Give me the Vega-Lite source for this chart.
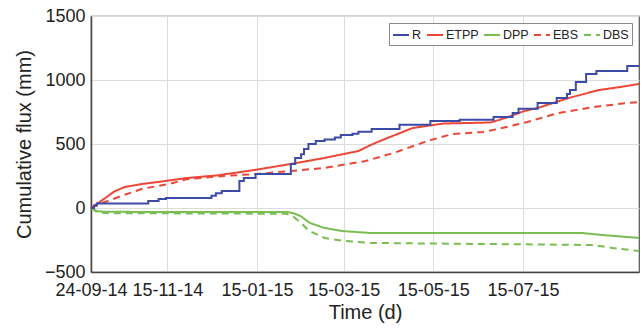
{
  "$schema": "https://vega.github.io/schema/vega-lite/v6.json",
  "width": 548,
  "height": 256,
  "autosize": "none",
  "padding": {"left": 91, "top": 16, "right": 4, "bottom": 60},
  "background": "white",
  "config": {
    "view": {"stroke": "#555", "strokeWidth": 1.2},
    "axis": {
      "labelFont": "Liberation Sans",
      "labelFontSize": 18,
      "labelColor": "#222",
      "titleFont": "Liberation Sans",
      "titleFontSize": 20,
      "titleFontWeight": "normal",
      "titleColor": "#222",
      "gridColor": "#dcdcdc",
      "gridWidth": 1,
      "domainColor": "#444",
      "domainWidth": 1.5,
      "tickSize": 0,
      "labelOverlap": false,
      "labelBound": false,
      "labelFlush": false
    },
    "legend": {
      "orient": "top-right",
      "direction": "horizontal",
      "columns": 5,
      "gridAlign": "none",
      "offset": 7,
      "padding": 3,
      "strokeColor": "#888",
      "fillColor": "#ffffff",
      "labelFont": "Liberation Sans",
      "labelFontSize": 12.5,
      "labelColor": "#222",
      "symbolType": "stroke",
      "symbolSize": 256,
      "symbolStrokeWidth": 2,
      "labelOffset": 2,
      "columnPadding": 1
    }
  },
  "data": {
    "format": {"parse": {"date": "utc:'%Y-%m-%d'"}},
    "values": [
      {"series": "R", "date": "2014-09-24", "value": 0},
      {"series": "R", "date": "2014-09-26", "value": 20},
      {"series": "R", "date": "2014-09-28", "value": 35},
      {"series": "R", "date": "2014-11-02", "value": 55},
      {"series": "R", "date": "2014-11-09", "value": 70},
      {"series": "R", "date": "2014-11-14", "value": 78},
      {"series": "R", "date": "2014-12-15", "value": 95},
      {"series": "R", "date": "2014-12-18", "value": 115},
      {"series": "R", "date": "2014-12-22", "value": 133},
      {"series": "R", "date": "2015-01-03", "value": 211},
      {"series": "R", "date": "2015-01-06", "value": 234},
      {"series": "R", "date": "2015-01-14", "value": 266},
      {"series": "R", "date": "2015-02-07", "value": 344},
      {"series": "R", "date": "2015-02-10", "value": 391},
      {"series": "R", "date": "2015-02-14", "value": 420},
      {"series": "R", "date": "2015-02-16", "value": 460},
      {"series": "R", "date": "2015-02-19", "value": 500},
      {"series": "R", "date": "2015-02-24", "value": 523},
      {"series": "R", "date": "2015-03-02", "value": 535},
      {"series": "R", "date": "2015-03-09", "value": 550},
      {"series": "R", "date": "2015-03-13", "value": 570},
      {"series": "R", "date": "2015-03-21", "value": 580},
      {"series": "R", "date": "2015-03-25", "value": 596},
      {"series": "R", "date": "2015-04-03", "value": 617},
      {"series": "R", "date": "2015-04-22", "value": 650},
      {"series": "R", "date": "2015-05-13", "value": 680},
      {"series": "R", "date": "2015-06-02", "value": 690},
      {"series": "R", "date": "2015-06-25", "value": 711},
      {"series": "R", "date": "2015-07-08", "value": 742},
      {"series": "R", "date": "2015-07-12", "value": 775},
      {"series": "R", "date": "2015-07-25", "value": 820},
      {"series": "R", "date": "2015-08-07", "value": 860},
      {"series": "R", "date": "2015-08-14", "value": 890},
      {"series": "R", "date": "2015-08-16", "value": 922},
      {"series": "R", "date": "2015-08-20", "value": 984},
      {"series": "R", "date": "2015-08-27", "value": 1047},
      {"series": "R", "date": "2015-09-03", "value": 1070},
      {"series": "R", "date": "2015-09-24", "value": 1109},
      {"series": "R", "date": "2015-10-02", "value": 1109},

      {"series": "ETPP", "date": "2014-09-24", "value": 0},
      {"series": "ETPP", "date": "2014-10-04", "value": 80},
      {"series": "ETPP", "date": "2014-10-10", "value": 130},
      {"series": "ETPP", "date": "2014-10-17", "value": 164},
      {"series": "ETPP", "date": "2014-10-29", "value": 188},
      {"series": "ETPP", "date": "2014-11-13", "value": 210},
      {"series": "ETPP", "date": "2014-11-28", "value": 234},
      {"series": "ETPP", "date": "2014-12-19", "value": 255},
      {"series": "ETPP", "date": "2015-01-03", "value": 280},
      {"series": "ETPP", "date": "2015-01-15", "value": 300},
      {"series": "ETPP", "date": "2015-02-07", "value": 344},
      {"series": "ETPP", "date": "2015-03-02", "value": 391},
      {"series": "ETPP", "date": "2015-03-25", "value": 445},
      {"series": "ETPP", "date": "2015-04-02", "value": 490},
      {"series": "ETPP", "date": "2015-04-09", "value": 525},
      {"series": "ETPP", "date": "2015-05-01", "value": 625},
      {"series": "ETPP", "date": "2015-05-22", "value": 660},
      {"series": "ETPP", "date": "2015-06-23", "value": 668},
      {"series": "ETPP", "date": "2015-07-03", "value": 703},
      {"series": "ETPP", "date": "2015-07-16", "value": 758},
      {"series": "ETPP", "date": "2015-07-25", "value": 781},
      {"series": "ETPP", "date": "2015-08-15", "value": 859},
      {"series": "ETPP", "date": "2015-09-05", "value": 922},
      {"series": "ETPP", "date": "2015-09-19", "value": 945},
      {"series": "ETPP", "date": "2015-10-02", "value": 969},

      {"series": "DPP", "date": "2014-09-24", "value": 0},
      {"series": "DPP", "date": "2014-09-28", "value": -25},
      {"series": "DPP", "date": "2014-10-04", "value": -30},
      {"series": "DPP", "date": "2015-02-05", "value": -32},
      {"series": "DPP", "date": "2015-02-10", "value": -45},
      {"series": "DPP", "date": "2015-02-14", "value": -65},
      {"series": "DPP", "date": "2015-02-20", "value": -117},
      {"series": "DPP", "date": "2015-03-02", "value": -156},
      {"series": "DPP", "date": "2015-03-14", "value": -180},
      {"series": "DPP", "date": "2015-04-02", "value": -195},
      {"series": "DPP", "date": "2015-08-24", "value": -195},
      {"series": "DPP", "date": "2015-09-07", "value": -211},
      {"series": "DPP", "date": "2015-10-02", "value": -234},

      {"series": "EBS", "date": "2014-09-24", "value": 0},
      {"series": "EBS", "date": "2014-09-30", "value": 31},
      {"series": "EBS", "date": "2014-10-16", "value": 100},
      {"series": "EBS", "date": "2014-10-29", "value": 150},
      {"series": "EBS", "date": "2014-11-17", "value": 190},
      {"series": "EBS", "date": "2014-11-28", "value": 225},
      {"series": "EBS", "date": "2014-12-23", "value": 250},
      {"series": "EBS", "date": "2015-01-15", "value": 266},
      {"series": "EBS", "date": "2015-02-07", "value": 289},
      {"series": "EBS", "date": "2015-03-02", "value": 313},
      {"series": "EBS", "date": "2015-03-30", "value": 367},
      {"series": "EBS", "date": "2015-04-18", "value": 430},
      {"series": "EBS", "date": "2015-05-11", "value": 523},
      {"series": "EBS", "date": "2015-05-28", "value": 578},
      {"series": "EBS", "date": "2015-06-18", "value": 594},
      {"series": "EBS", "date": "2015-06-29", "value": 620},
      {"series": "EBS", "date": "2015-07-18", "value": 672},
      {"series": "EBS", "date": "2015-08-08", "value": 742},
      {"series": "EBS", "date": "2015-09-01", "value": 789},
      {"series": "EBS", "date": "2015-09-24", "value": 820},
      {"series": "EBS", "date": "2015-10-02", "value": 828},

      {"series": "DBS", "date": "2014-09-24", "value": 0},
      {"series": "DBS", "date": "2014-09-28", "value": -30},
      {"series": "DBS", "date": "2014-10-04", "value": -40},
      {"series": "DBS", "date": "2015-02-04", "value": -45},
      {"series": "DBS", "date": "2015-02-09", "value": -70},
      {"series": "DBS", "date": "2015-02-14", "value": -117},
      {"series": "DBS", "date": "2015-02-19", "value": -175},
      {"series": "DBS", "date": "2015-03-02", "value": -234},
      {"series": "DBS", "date": "2015-03-14", "value": -255},
      {"series": "DBS", "date": "2015-04-02", "value": -273},
      {"series": "DBS", "date": "2015-09-01", "value": -289},
      {"series": "DBS", "date": "2015-09-14", "value": -312},
      {"series": "DBS", "date": "2015-10-02", "value": -336}
    ]
  },
  "encoding": {
    "x": {
      "field": "date",
      "type": "temporal",
      "scale": {
        "type": "utc",
        "domain": [
          {"year": 2014, "month": 9, "date": 24, "utc": true},
          {"year": 2015, "month": 10, "date": 2, "utc": true}
        ]
      },
      "axis": {
        "title": "Time (d)",
        "labelExpr": "utcFormat(datum.value, '%d-%m-%y')",
        "labelPadding": 9,
        "titlePadding": 3,
        "values": [
          {"year": 2014, "month": 9, "date": 24, "utc": true},
          {"year": 2014, "month": 11, "date": 15, "utc": true},
          {"year": 2015, "month": 1, "date": 15, "utc": true},
          {"year": 2015, "month": 3, "date": 15, "utc": true},
          {"year": 2015, "month": 5, "date": 15, "utc": true},
          {"year": 2015, "month": 7, "date": 15, "utc": true}
        ]
      }
    },
    "y": {
      "field": "value",
      "type": "quantitative",
      "scale": {"domain": [-500, 1500], "nice": false},
      "axis": {
        "title": "Cumulative flux (mm)",
        "format": "d",
        "values": [-500, 0, 500, 1000, 1500],
        "labelPadding": 6,
        "titlePadding": 10
      }
    },
    "color": {
      "field": "series",
      "type": "nominal",
      "scale": {
        "domain": ["R", "ETPP", "DPP", "EBS", "DBS"],
        "range": ["#3d4ba8", "#eb4636", "#78be50", "#eb4636", "#78be50"]
      },
      "legend": {"title": null}
    },
    "strokeDash": {
      "field": "series",
      "type": "nominal",
      "scale": {
        "domain": ["R", "ETPP", "DPP", "EBS", "DBS"],
        "range": [[1, 0], [1, 0], [1, 0], [7, 5], [7, 5]]
      },
      "legend": {"title": null}
    }
  },
  "layer": [
    {
      "transform": [{"filter": "datum.series !== 'R'"}],
      "mark": {"type": "line", "strokeWidth": 2}
    },
    {
      "transform": [{"filter": "datum.series === 'R'"}],
      "mark": {"type": "line", "strokeWidth": 2, "interpolate": "step-after"}
    }
  ]
}
